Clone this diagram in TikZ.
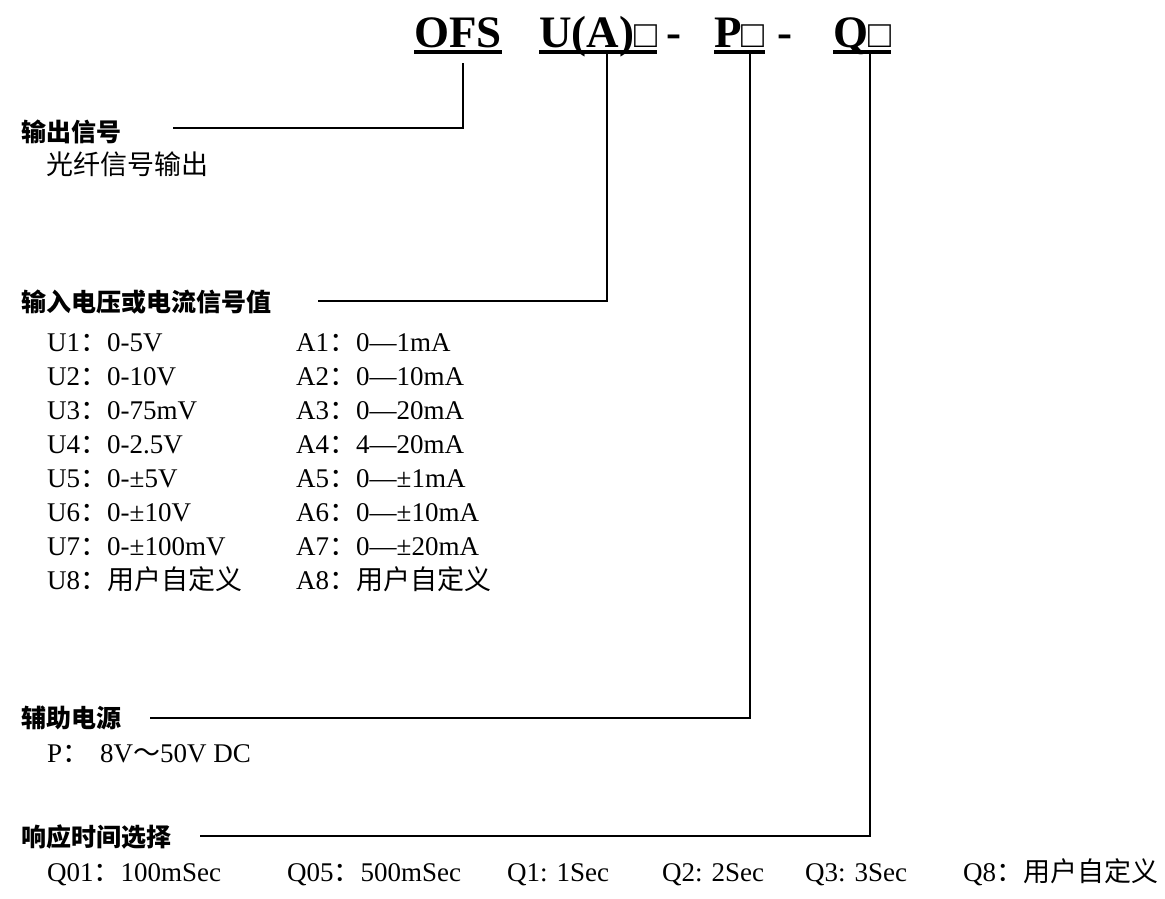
\documentclass[tikz,border=0pt]{standalone}
\usepackage{fontspec}
\setmainfont{Liberation Serif}
\newfontfamily\cjk{Noto Sans CJK SC}
\newcommand\boxch{{\fontsize{38}{38}\selectfont\mdseries □}}
\newcommand\fcolon{{\cjk ：}}
\begin{document}
\begin{tikzpicture}[x=1pt,y=-1pt,
  txt/.style={inner sep=0pt, anchor=base west, font=\fontsize{27}{27}\selectfont},
  head/.style={inner sep=0pt, anchor=base west, font=\fontsize{25}{25}\selectfont\cjk\bfseries},
  ttl/.style={inner sep=0pt, anchor=base west, font=\fontsize{45}{45}\selectfont\bfseries},
  conn/.style={line width=2pt},
  ul/.style={line width=4pt}]
\useasboundingbox (0,0) rectangle (1165,898);
% title
\node[ttl] (ofs) at (414,47) {OFS};
\node[ttl] (ua) at (539,47) {U(A)\boxch};
\node[ttl] (d1) at (666,47) {-};
\node[ttl] (p) at (714,47) {P\boxch};
\node[ttl] (d2) at (777,47) {-};
\node[ttl] (q) at (833,47) {Q\boxch};
\foreach \n in {ofs,ua,p,q}
  \draw[ul] ([yshift=-5pt]\n.base west) -- ([yshift=-5pt]\n.base east);
% headings
\node[head] (h1) at (21,141) {输出信号};
\node[txt] (t1) at (46,174) {\cjk 光纤信号输出};
\node[head] (h2) at (21,311) {输入电压或电流信号值};
\node[head] (h3) at (21,727) {辅助电源};
\node[head] (h4) at (21,846) {响应时间选择};
% U / A table
\node[txt] (u1) at (47,351) {U1\fcolon0-5V};
\node[txt] (u2) at (47,385) {U2\fcolon0-10V};
\node[txt] (u3) at (47,419) {U3\fcolon0-75mV};
\node[txt] (u4) at (47,453) {U4\fcolon0-2.5V};
\node[txt] (u5) at (47,487) {U5\fcolon0-±5V};
\node[txt] (u6) at (47,521) {U6\fcolon0-±10V};
\node[txt] (u7) at (47,555) {U7\fcolon0-±100mV};
\node[txt] (u8) at (47,589) {U8\fcolon{\cjk 用户自定义}};
\node[txt] (a1) at (296,351) {A1\fcolon0—1mA};
\node[txt] (a2) at (296,385) {A2\fcolon0—10mA};
\node[txt] (a3) at (296,419) {A3\fcolon0—20mA};
\node[txt] (a4) at (296,453) {A4\fcolon4—20mA};
\node[txt] (a5) at (296,487) {A5\fcolon0—±1mA};
\node[txt] (a6) at (296,521) {A6\fcolon0—±10mA};
\node[txt] (a7) at (296,555) {A7\fcolon0—±20mA};
\node[txt] (a8) at (296,589) {A8\fcolon{\cjk 用户自定义}};
% power
\node[txt] (pw) at (47,762) {P\fcolon\hspace{11pt}8V{\cjk ～}50V DC};
% Q row
\node[txt] (q01) at (47,881) {Q01\fcolon100mSec};
\node[txt] (q05) at (287,881) {Q05\fcolon500mSec};
\node[txt] (q1) at (507,881) {Q1: 1Sec};
\node[txt] (q2) at (662,881) {Q2: 2Sec};
\node[txt] (q3) at (805,881) {Q3: 3Sec};
\node[txt] (q8) at (963,881) {Q8\fcolon{\cjk 用户自定义}};
% connectors
\coordinate (e1) at (173,128);
\coordinate (s1) at (463,63);
\coordinate (e2) at (318,301);
\coordinate (s2) at (607,53);
\coordinate (e3) at (150,718);
\coordinate (s3) at (750,53);
\coordinate (e4) at (200,836);
\coordinate (s4) at (870,53);
\draw[conn] (e1) -| (s1);
\draw[conn] (e2) -| (s2);
\draw[conn] (e3) -| (s3);
\draw[conn] (e4) -| (s4);
\end{tikzpicture}
\end{document}
